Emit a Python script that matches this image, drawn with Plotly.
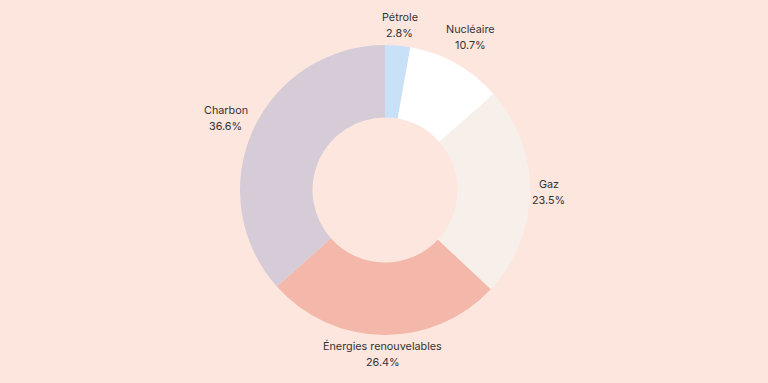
import math
import plotly.graph_objects as go

labels = ["Pétrole", "Nucléaire", "Gaz", "Énergies renouvelables", "Charbon"]
values = [2.8, 10.7, 23.5, 26.4, 36.6]
colors = ["#c8e1f8", "#ffffff", "#f7f0ea", "#f4b8aa", "#d5ccd8"]

W, H = 768, 383
CX, CY, R = 385, 190, 145  # pie centre / radius in pixels
FS = 10.8

fig = go.Figure(go.Pie(
    labels=labels,
    values=values,
    hole=0.5,
    sort=False,
    direction="clockwise",
    rotation=0,
    marker=dict(colors=colors, line=dict(width=0)),
    textinfo="none",
    hoverinfo="label+percent",
    showlegend=False,
    domain=dict(x=[(CX - R) / W, (CX + R) / W], y=[1 - (CY + R) / H, 1 - (CY - R) / H]),
))

# labels outside each slice, along its mid-angle
total = sum(values)
cum = 0.0
annotations = []
for lab, v in zip(labels, values):
    mid = (cum + v / 2) / total * 2 * math.pi
    cum += v
    dx, dy = math.sin(mid), -math.cos(mid)
    pct = f"{v / total * 100:.1f}%"
    w = max(len(lab), len(pct)) * FS * 0.58
    h = 31
    ext = abs(dx) * w / 2 + abs(dy) * h / 2
    r = R + 3 + ext
    px, py = CX + dx * r, CY + dy * r
    for txt, shift in ((lab, 8), (pct, -8)):
        annotations.append(dict(
            x=px / W, y=1 - py / H, xref="paper", yref="paper",
            text=txt, showarrow=False, yshift=shift,
            xanchor="center", yanchor="middle", align="center",
            font=dict(family="Inter", size=FS, color="#333333"),
        ))

fig.update_layout(
    width=W, height=H,
    margin=dict(l=0, r=0, t=0, b=0),
    paper_bgcolor="#fde6de",
    plot_bgcolor="#fde6de",
    font=dict(family="Inter", size=FS, color="#333333"),
    annotations=annotations,
)

fig.write_html("out.html", config={"displayModeBar": False})
with open("out.html", encoding="utf-8") as f:
    html = f.read()
html = html.replace("<head>", "<head><style>html,body{margin:0;padding:0;background:#fde6de;}</style>", 1)
with open("out.html", "w", encoding="utf-8") as f:
    f.write(html)
